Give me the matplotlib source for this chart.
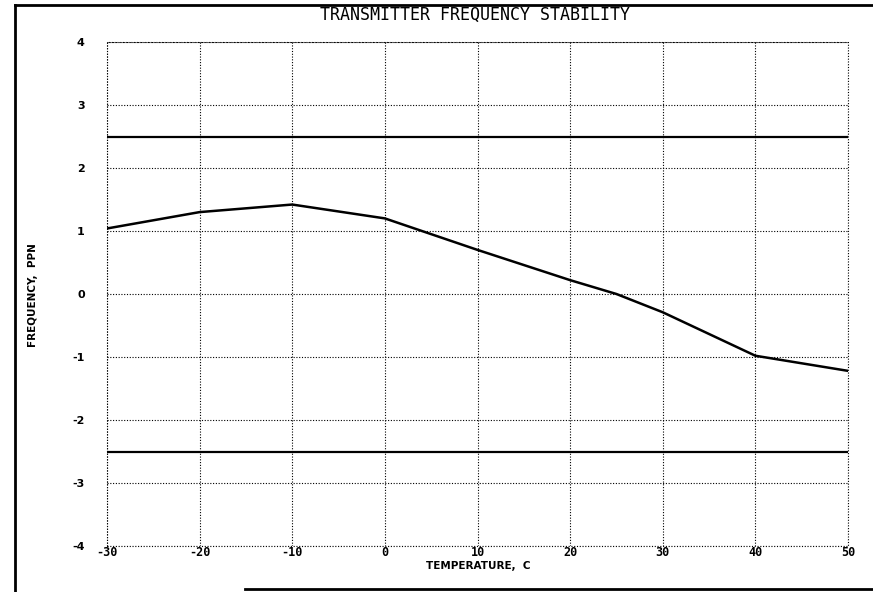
# Transmitter frequency stability chart

import matplotlib
matplotlib.use('Agg')
import matplotlib.pyplot as plt
from matplotlib.lines import Line2D

temps = [-30, -20, -10, 0, 10, 20, 25, 30, 40, 50]
freq_ppm = [1.04, 1.30, 1.42, 1.20, 0.70, 0.22, 0.0, -0.29, -0.98, -1.22]
upper_limit = 2.5
lower_limit = -2.5
x_ticks = [-30, -20, -10, 0, 10, 20, 30, 40, 50]
y_ticks = [-4, -3, -2, -1, 0, 1, 2, 3, 4]

fig = plt.figure(figsize=(8.73, 5.92), dpi=100)
ax = fig.add_axes([107 / 873, 1 - 546 / 592, 741 / 873, 504 / 592])

ax.plot(temps, freq_ppm, color='black', linewidth=1.8)
ax.axhline(upper_limit, color='black', linewidth=1.6)
ax.axhline(lower_limit, color='black', linewidth=1.6)

ax.set_xlim(-30, 50)
ax.set_ylim(-4, 4)
ax.set_xticks(x_ticks)
ax.set_yticks(y_ticks)
ax.set_xticklabels([str(t) for t in x_ticks], fontweight='bold', fontsize=8.5,
                   family='DejaVu Sans Mono')
ax.set_yticklabels([str(t) for t in y_ticks], fontweight='bold', fontsize=8,
                   family='DejaVu Sans')
ax.tick_params(axis='x', length=0, pad=0)
ax.tick_params(axis='y', length=0, pad=16)
ax.grid(True, color='black', linestyle=(0, (1, 1.5)), linewidth=0.8)
for s in ax.spines.values():
    s.set_visible(False)

# dotted outer border of the plot area
ax.plot([-30, 50, 50, -30, -30], [-4, -4, 4, 4, -4], color='black',
        linestyle=(0, (1, 1.5)), linewidth=0.8, clip_on=False)

fig.text(475 / 873, 1 - 15 / 592, 'TRANSMITTER FREQUENCY STABILITY',
         ha='center', va='center', fontsize=12, family='DejaVu Sans Mono')
fig.text(478 / 873, 1 - 566 / 592, 'TEMPERATURE,  C', ha='center', va='center',
         fontsize=7.5, fontweight='bold', family='DejaVu Sans')
fig.text(33 / 873, 1 - 295 / 592, 'FREQUENCY,  PPN', ha='center', va='center',
         rotation=90, fontsize=7.5, fontweight='bold', family='DejaVu Sans')

# page frame
fig.add_artist(Line2D([15 / 873, 15 / 873], [0, 1 - 5 / 592], color='black',
                      linewidth=2, transform=fig.transFigure))
fig.add_artist(Line2D([15 / 873, 1], [1 - 5 / 592, 1 - 5 / 592], color='black',
                      linewidth=2, transform=fig.transFigure))
fig.add_artist(Line2D([245 / 873, 1], [1 - 589 / 592, 1 - 589 / 592], color='black',
                      linewidth=2, transform=fig.transFigure))

fig.savefig('out.png', dpi=100, facecolor='white')
